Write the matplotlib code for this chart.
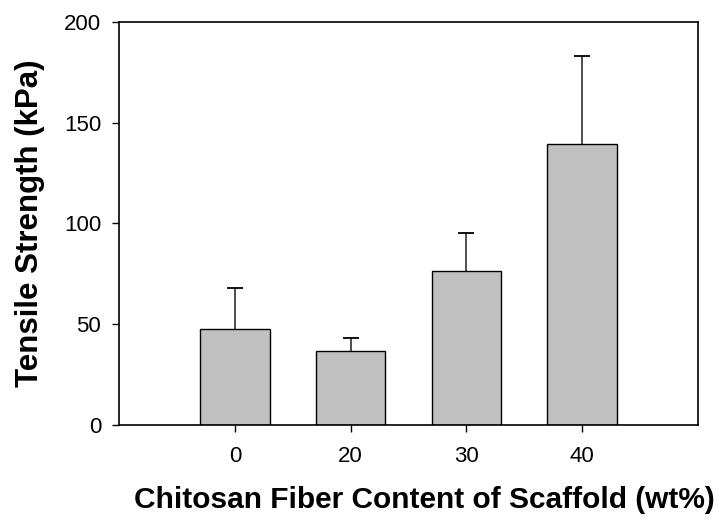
import matplotlib
matplotlib.use("Agg")
import matplotlib.pyplot as plt
import numpy as np

categories = ["0", "20", "30", "40"]
strength = [47.7, 36.6, 76.2, 139.3]
err_up = [20.3, 6.3, 19.2, 43.9]
yticks = [0, 50, 100, 150, 200]

plt.rcParams['font.family'] = ['Liberation Sans', 'DejaVu Sans']

fig = plt.figure(figsize=(7.21, 5.22), dpi=100)
ax = fig.add_axes([0.1655, 0.1864, 0.8022, 0.7716])

x = np.arange(len(categories))
tops = np.array(strength) + np.array(err_up)
ax.bar(x, strength, width=0.6, color='#c0c0c0', edgecolor='black', linewidth=1.0, zorder=2)
ax.vlines(x, strength, tops, colors='#404040', linewidth=1.3, zorder=1)
ax.plot(x, tops, linestyle='none', marker='_', markersize=11.5, markeredgewidth=1.3,
        color='black', zorder=3)

ax.set_xlim(-1, 4)
ax.set_ylim(0, 200)
ax.set_xticks(x)
ax.set_xticklabels(categories)
ax.set_yticks(yticks)
ax.tick_params(axis='both', direction='out', length=5, width=1, labelsize=16)
ax.tick_params(axis='y', pad=8)
ax.tick_params(axis='x', pad=10)
for s in ax.spines.values():
    s.set_linewidth(1.2)

ax.set_xlabel("Chitosan Fiber Content of Scaffold (wt%)", fontsize=21.5, fontweight='bold', labelpad=14)
ax.xaxis.label.set_x(0.527)
ax.set_ylabel("Tensile Strength (kPa)", fontsize=22.5, fontweight='bold', labelpad=14)

fig.savefig("out.png", dpi=100)
